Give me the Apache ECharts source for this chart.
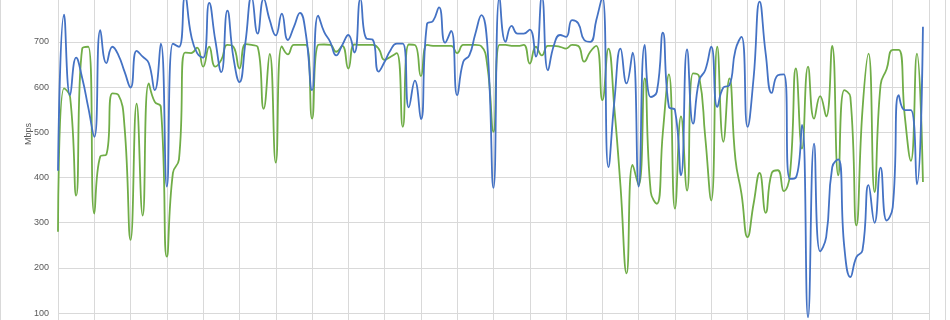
<!DOCTYPE html>
<html>
<head>
<meta charset="utf-8">
<script src="https://cdn.jsdelivr.net/npm/echarts@6/dist/echarts.min.js"></script>
<style>
html,body{margin:0;padding:0;background:#fff;overflow:hidden;width:950px;height:320px;}
#chart{position:absolute;left:0;top:-50px;width:950px;height:450px;}
</style>
</head>
<body>
<div id="chart"></div>
<script>
// y-axis ticks (Mbps)
const yTicks = [100, 200, 300, 400, 500, 600, 700];
// 144 samples (x index), vertical grid every 6 samples
const sampleCount = 144;
const blueValues = [
  415,760,582,665,620,555,490,726,653,689,670,634,599,680,667,653,593,696,380,696,
  689,800,715,675,665,786,704,633,769,665,611,700,800,718,795,748,714,762,704,733,
  764,715,593,758,722,700,670,693,715,676,795,707,705,634,656,682,696,696,555,614,
  529,739,746,776,698,724,582,656,670,718,759,689,377,800,700,735,718,718,727,667,
  800,637,693,715,711,748,741,704,700,748,800,423,571,685,608,676,380,693,578,589,
  720,556,549,405,683,519,615,637,689,556,599,604,682,711,512,620,789,674,587,626,
  628,397,400,516,91,475,237,268,423,440,246,180,224,239,383,300,422,305,334,582,
  549,549,385,733
];
const greenValues = [
  280,597,578,360,685,689,320,447,451,586,582,512,262,563,316,608,567,556,225,410,
  440,676,675,687,645,689,645,660,693,689,641,695,693,689,552,673,433,690,672,693,
  693,693,530,693,694,693,678,691,641,694,693,693,693,685,660,667,675,512,694,693,
  624,693,691,691,691,691,675,693,693,693,690,645,501,693,693,691,691,693,652,689,
  670,691,691,689,685,693,691,656,678,691,571,685,550,380,188,428,383,619,368,342,
  500,628,331,535,371,630,623,490,349,689,479,619,440,364,268,342,410,322,410,416,
  370,405,641,464,645,530,580,535,691,405,593,578,294,549,674,368,605,640,682,682,
  535,437,674,390
];

const OFF = 50; // container is shifted up by this many px
const chart = echarts.init(document.getElementById('chart'), null, {renderer: 'canvas'});
const font = '"Liberation Sans", Arial, sans-serif';
chart.setOption({
  animation: false,
  backgroundColor: '#ffffff',
  grid: {left: 58, right: 21, top: 46.55, bottom: 41.55, containLabel: false},
  xAxis: {
    type: 'value', min: 0, max: sampleCount, interval: 6,
    axisLine: {show: false}, axisTick: {show: false}, axisLabel: {show: false},
    splitLine: {show: true, lineStyle: {color: '#d9d9d9', width: 1}}
  },
  yAxis: {
    type: 'value', min: 0, max: 800, interval: 100,
    axisLine: {show: false}, axisTick: {show: false},
    axisLabel: {
      color: '#595959', fontSize: 9, fontFamily: font, margin: 9,
      formatter: v => yTicks.indexOf(v) >= 0 ? String(v) : ''
    },
    splitLine: {show: true, lineStyle: {color: '#d9d9d9', width: 1}}
  },
  graphic: [
    {type: 'text', left: 24, top: 123 + OFF, rotation: Math.PI / 2,
     style: {text: 'Mbps', fill: '#595959', font: '9px ' + font}},
    {type: 'line', shape: {x1: 0.5, y1: OFF, x2: 0.5, y2: 320 + OFF}, style: {stroke: '#d9d9d9', lineWidth: 1}},
    {type: 'line', shape: {x1: 945.5, y1: OFF, x2: 945.5, y2: 320 + OFF}, style: {stroke: '#d9d9d9', lineWidth: 1}}
  ],
  series: [
    {type: 'line', data: blueValues.map((v, i) => [i, v]), smooth: 0.5, symbol: 'none',
     lineStyle: {color: '#4472C4', width: 1.8}, z: 3},
    {type: 'line', data: greenValues.map((v, i) => [i, v]), smooth: 0.5, symbol: 'none',
     lineStyle: {color: '#70AD47', width: 1.8}, z: 2}
  ]
});
</script>
</body>
</html>
